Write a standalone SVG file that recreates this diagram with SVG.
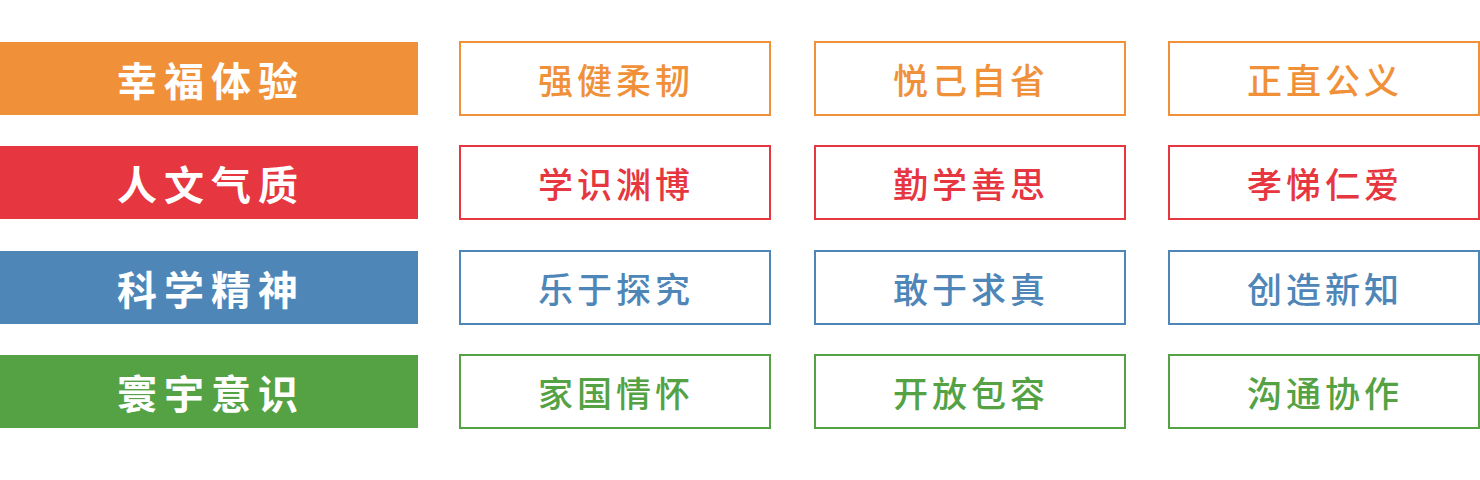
<svg xmlns="http://www.w3.org/2000/svg" width="1480" height="480" viewBox="0 0 1480 480">
<style>
.bar{stroke:none}
.box{fill:#fff;stroke-width:2}
.h{font-family:"Noto Sans CJK SC","Noto Sans",sans-serif;font-weight:700;font-size:40px;fill:#fff;letter-spacing:7px;text-anchor:middle;dominant-baseline:central}
.t{font-family:"Noto Sans CJK SC","Noto Sans",sans-serif;font-weight:500;font-size:35px;letter-spacing:4px;text-anchor:middle;dominant-baseline:central}
.o{stroke:#F0913A}.to{fill:#F0913A}
.r{stroke:#E6363F}.tr{fill:#E6363F}
.b{stroke:#4F86B8}.tb{fill:#4F86B8}
.g{stroke:#54A244}.tg{fill:#54A244}
</style>
<rect width="1480" height="480" fill="#fff"/>
<g id="row1">
<g id="h1"><rect class="bar" x="0" y="42" width="418" height="73" fill="#F0913A"/><text class="h" x="211" y="78.5">幸福体验</text></g>
<g id="n1a"><rect class="box o" x="460" y="42" width="310" height="73"/><text class="t to" x="616" y="78.5">强健柔韧</text></g>
<g id="n1b"><rect class="box o" x="815" y="42" width="310" height="73"/><text class="t to" x="971" y="78.5">悦己自省</text></g>
<g id="n1c"><rect class="box o" x="1169" y="42" width="310" height="73"/><text class="t to" x="1325" y="78.5">正直公义</text></g>
</g>
<g id="row2">
<g id="h2"><rect class="bar" x="0" y="146" width="418" height="73" fill="#E6363F"/><text class="h" x="211" y="182.5">人文气质</text></g>
<g id="n2a"><rect class="box r" x="460" y="146" width="310" height="73"/><text class="t tr" x="616" y="182.5">学识渊博</text></g>
<g id="n2b"><rect class="box r" x="815" y="146" width="310" height="73"/><text class="t tr" x="971" y="182.5">勤学善思</text></g>
<g id="n2c"><rect class="box r" x="1169" y="146" width="310" height="73"/><text class="t tr" x="1325" y="182.5">孝悌仁爱</text></g>
</g>
<g id="row3">
<g id="h3"><rect class="bar" x="0" y="251" width="418" height="73" fill="#4F86B8"/><text class="h" x="211" y="287.5">科学精神</text></g>
<g id="n3a"><rect class="box b" x="460" y="251" width="310" height="73"/><text class="t tb" x="616" y="287.5">乐于探究</text></g>
<g id="n3b"><rect class="box b" x="815" y="251" width="310" height="73"/><text class="t tb" x="971" y="287.5">敢于求真</text></g>
<g id="n3c"><rect class="box b" x="1169" y="251" width="310" height="73"/><text class="t tb" x="1325" y="287.5">创造新知</text></g>
</g>
<g id="row4">
<g id="h4"><rect class="bar" x="0" y="355" width="418" height="73" fill="#54A244"/><text class="h" x="211" y="391.5">寰宇意识</text></g>
<g id="n4a"><rect class="box g" x="460" y="355" width="310" height="73"/><text class="t tg" x="616" y="391.5">家国情怀</text></g>
<g id="n4b"><rect class="box g" x="815" y="355" width="310" height="73"/><text class="t tg" x="971" y="391.5">开放包容</text></g>
<g id="n4c"><rect class="box g" x="1169" y="355" width="310" height="73"/><text class="t tg" x="1325" y="391.5">沟通协作</text></g>
</g>
<g id="connectors"/>
</svg>
